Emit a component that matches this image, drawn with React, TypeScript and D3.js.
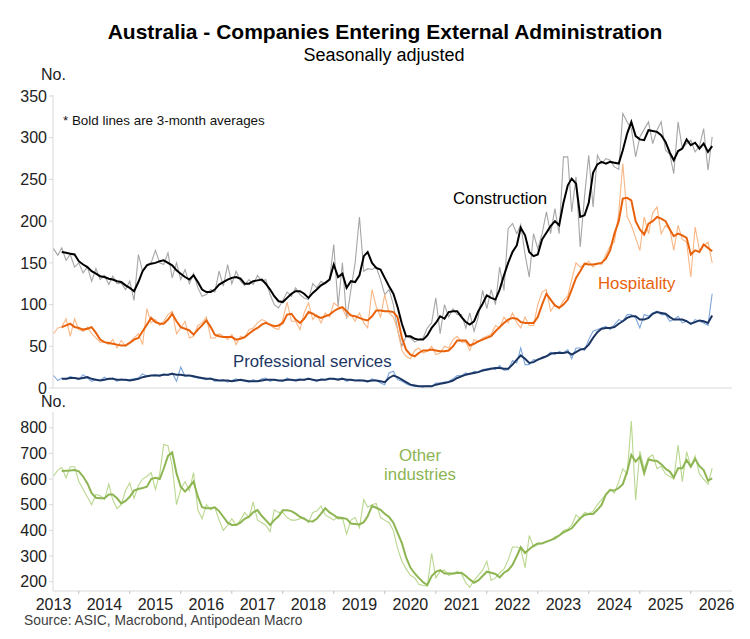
import * as d3 from "d3";

// monthly, Jan 2013 .. Dec 2025
const START_YEAR = 2013;
const YEARS = d3.range(2013, 2027);

const constructionRaw = [
  167, 159, 168, 153, 160, 145, 150, 138, 145, 128, 143, 130,
  135, 124, 134, 125, 126, 118, 128, 105, 160, 140, 148, 150,
  165, 150, 148, 162, 132, 150, 130, 142, 125, 137, 120, 110,
  112, 118, 115, 140, 122, 148, 125, 140, 128, 123, 130, 124,
  135, 128, 130, 112, 100, 96, 105, 115, 110, 120, 112, 108,
  106, 125, 120, 128, 125, 130, 172, 98, 150, 83, 118, 150,
  205, 140, 143, 142, 145, 130, 112, 118, 100, 70, 50, 62,
  60, 55, 58, 60, 72, 78, 108, 65, 100, 85, 95, 88,
  88, 72, 90, 68, 85, 117, 95, 118, 100, 145, 117, 191,
  197, 185, 196, 160, 133, 185, 167, 185, 211, 185, 215, 185,
  277, 277, 211, 253, 169, 230, 279, 217, 279, 269, 275, 273,
  265, 262, 329, 319, 311, 277, 301, 310, 319, 293, 309, 319,
  285, 280, 257, 319, 287, 293, 297, 283, 290, 311, 261, 301,
];
const constructionAvg = [
  null, null, 163, 162, 161, 160, 152, 148, 145, 140, 137, 134,
  133, 131, 130, 128, 127, 123, 120, 116, 127, 140, 147, 149,
  150, 152, 153, 150, 147, 141, 137, 133, 130, 135, 127, 118,
  115, 115, 118, 124, 127, 130, 132, 133, 131, 125, 125, 128,
  129, 130, 125, 118, 110, 104, 103, 108, 113, 116, 116, 113,
  108, 114, 118, 123, 126, 130, 148, 133, 137, 120, 128, 127,
  135, 158, 163, 150, 144, 142, 132, 122, 113, 97, 77, 62,
  62, 59, 58, 58, 63, 72, 78, 86, 83, 91, 92, 92,
  85, 79, 76, 80, 92, 101, 111, 108, 106, 118, 135, 150,
  163, 171, 192, 183, 163, 158, 160, 178, 186, 194, 200, 195,
  222, 243, 251, 245, 205, 207, 222, 258, 268, 271, 269, 271,
  270, 269, 285, 305, 319, 302, 298, 297, 309, 308, 307, 303,
  295, 282, 273, 284, 287, 298, 291, 294, 287, 293, 283, 290,
];

const hospitalityRaw = [
  65, 72, 73, 83, 62, 83, 70, 68, 73, 65, 60, 55,
  55, 52, 58, 48, 57, 50, 55, 60, 65, 52, 95, 78,
  82, 75, 80, 88, 92, 65, 72, 80, 60, 62, 75, 78,
  85, 60, 60, 65, 62, 58, 64, 52, 62, 60, 70, 72,
  78, 82, 80, 75, 72, 70, 82, 103, 80, 80, 70, 90,
  102, 82, 88, 78, 90, 85, 102, 98, 95, 85, 88, 80,
  90, 78, 72, 118, 98, 85, 112, 90, 85, 70, 45, 38,
  35, 45, 48, 42, 44, 50, 40, 42, 50, 48, 58, 62,
  55, 55, 45, 58, 55, 60, 62, 64, 75, 72, 85, 78,
  90, 78, 72, 85, 75, 75, 100, 115, 118, 92, 100, 95,
  105, 110, 130, 150, 145, 148, 152, 145, 150, 148, 160, 170,
  175, 210, 269, 205, 195, 180, 165, 205, 185, 210, 217, 185,
  195, 190, 165, 195, 178, 175, 133, 193, 165, 170, 175, 150,
];
const hospitalityAvg = [
  null, null, 73, 75, 77, 73, 72, 70, 71, 73, 66, 58,
  55, 54, 53, 52, 51, 51, 54, 58, 60, 68, 76, 84,
  79, 77, 77, 82, 89, 80, 73, 71, 69, 64, 70, 75,
  81, 73, 64, 62, 61, 61, 61, 58, 59, 61, 65, 69,
  72, 76, 78, 76, 74, 75, 78, 88, 89, 82, 78, 83,
  91, 89, 86, 84, 86, 88, 92, 95, 97, 92, 87, 86,
  84, 82, 81, 86, 93, 93, 92, 92, 91, 85, 60, 46,
  40, 38, 42, 45, 45, 46, 45, 44, 44, 45, 50, 57,
  57, 57, 51, 53, 56, 58, 60, 62, 68, 73, 78, 82,
  84, 83, 79, 78, 78, 78, 85, 100, 113, 106, 99, 96,
  100, 106, 118, 132, 140, 149, 148, 148, 149, 150, 155, 165,
  185, 200, 227, 228, 225, 200, 190, 184, 197, 200, 205, 203,
  200, 190, 182, 185, 183, 180, 160, 165, 163, 172, 168, 164,
];

const professionalRaw = [
  15, 9, 12, 10, 14, 12, 10, 16, 12, 8, 10, 9,
  13, 10, 12, 8, 11, 9, 10, 11, 12, 17, 14, 15,
  16, 14, 17, 15, 18, 8, 25, 14, 15, 13, 12, 11,
  10, 12, 8, 9, 10, 7, 9, 11, 9, 8, 7, 10,
  8, 11, 12, 8, 10, 9, 8, 12, 9, 10, 11, 9,
  12, 10, 8, 11, 10, 12, 10, 11, 12, 8, 10, 9,
  10, 8, 7, 11, 9, 6, 4, 18, 20, 10, 8, 5,
  3, 2, 2, 1, 3, 2, 6, 6, 7, 8, 11, 15,
  15, 18, 16, 20, 19, 22, 23, 24, 22, 27, 21, 22,
  33, 30, 48, 28, 28, 34, 33, 37, 38, 43, 40, 44,
  42, 46, 35, 48, 48, 45, 58, 68, 70, 72, 74, 70,
  76, 82, 80, 88, 88, 84, 72, 88, 86, 90, 92, 88,
  88, 80, 82, 86, 78, 80, 76, 82, 80, 78, 75, 113,
];
const professionalAvg = [
  null, null, 11, 11, 12, 12, 11, 12, 13, 11, 10, 9,
  10, 11, 11, 10, 10, 10, 9, 10, 11, 13, 14, 15,
  15, 15, 16, 16, 17, 16, 16, 15, 15, 14, 13, 12,
  11, 11, 10, 9, 9, 9, 8, 9, 10, 9, 8, 8,
  8, 9, 10, 10, 10, 9, 9, 10, 10, 9, 10, 10,
  11, 10, 9, 10, 10, 11, 11, 10, 11, 10, 10, 9,
  9, 9, 8, 9, 9, 8, 7, 12, 15, 13, 10, 7,
  4, 3, 2, 2, 2, 2, 4, 5, 6, 7, 9, 12,
  14, 16, 17, 18, 19, 21, 22, 23, 24, 24, 23, 23,
  28, 34, 39, 35, 30, 31, 34, 36, 38, 41, 42, 42,
  42, 43, 40, 43, 46, 47, 52, 60, 67, 71, 72, 72,
  73, 77, 80, 84, 86, 86, 82, 82, 84, 89, 91, 90,
  89, 85, 82, 82, 82, 80, 77, 79, 81, 80, 78, 87,
];

const otherRaw = [
  612, 635, 645, 605, 648, 648, 590, 560, 530, 500, 540, 535,
  520, 580, 520, 485, 500, 555, 585, 525, 575, 600, 610, 625,
  560, 620, 735, 730, 650, 500, 560, 590, 555, 625, 480, 445,
  500, 480, 490, 440, 400, 420, 445, 420, 440, 470, 450, 510,
  440, 430, 420, 395, 480, 470, 470, 450, 440, 440, 445, 450,
  430, 470, 475, 495, 460, 450, 440, 455, 450, 385, 440, 450,
  410, 520, 490, 500, 505, 450, 440, 430, 400, 330, 280, 250,
  225, 215, 190, 185, 183, 310, 215, 240, 245, 225, 230, 240,
  230, 195, 178, 205, 225, 245, 280, 205, 215, 235, 250, 285,
  335, 335, 330, 255, 380, 335, 345, 350, 355, 360, 375, 380,
  400, 405, 420, 460, 445, 470, 465, 475, 500, 520, 540, 560,
  545, 590, 640, 620, 826, 518, 709, 639, 683, 694, 640, 650,
  620, 610, 600, 732, 590, 706, 650, 690, 620, 600, 579, 642,
];
const otherAvg = [
  null, null, 631, 632, 633, 635, 630, 610, 583, 545, 527, 525,
  525, 540, 540, 525, 505, 515, 531, 555, 561, 565, 570, 600,
  605, 600, 640, 690, 704, 622, 570, 551, 570, 590, 531, 490,
  486, 486, 490, 475, 453, 430, 421, 421, 430, 445, 453, 470,
  479, 456, 440, 421, 440, 455, 478, 478, 475, 465, 453, 445,
  436, 435, 445, 465, 486, 470, 460, 447, 448, 445, 427, 425,
  423, 432, 455, 495, 488, 480, 465, 452, 430, 390, 350, 295,
  255, 232, 215, 198, 187, 222, 238, 245, 232, 232, 232, 234,
  235, 222, 209, 196, 205, 222, 239, 235, 230, 217, 235, 245,
  265, 300, 334, 312, 326, 340, 349, 349, 356, 362, 369, 380,
  392, 400, 408, 428, 447, 460, 464, 464, 480, 499, 540, 557,
  555, 565, 580, 629, 694, 668, 687, 622, 677, 672, 670, 658,
  640, 629, 606, 642, 642, 674, 648, 678, 650, 635, 594, 603,
];

const topTicks = [0, 50, 100, 150, 200, 250, 300, 350];
const bottomTicks = [200, 300, 400, 500, 600, 700, 800];

const FONT = "'Liberation Sans', Arial, sans-serif";
const W = 750;
const H = 639;
const X0 = 53;
const X1 = 732;

const monthDate = (i: number) => new Date(START_YEAR, i, 1);

export default function App() {
  const x = d3
    .scaleTime()
    .domain([new Date(2013, 0, 1), new Date(2026, 0, 1)])
    .range([53.5, 716.5]);
  const yTop = d3.scaleLinear().domain([0, 350]).range([388, 96]);
  const yBot = d3.scaleLinear().domain([200, 800]).range([581.7, 427.7]);

  const mkLine = (y: d3.ScaleLinear<number, number>) =>
    d3
      .line<number | null>()
      .defined((d) => d != null)
      .x((_, i) => x(monthDate(i)))
      .y((d) => y(d as number));

  const lt = mkLine(yTop);
  const lb = mkLine(yBot);

  const axisColor = "#d9d9d9";

  const yAxis = (
    y: d3.ScaleLinear<number, number>,
    ticks: number[],
    top: number,
    bottom: number
  ) => (
    <g>
      <line x1={X0} x2={X0} y1={top} y2={bottom} stroke={axisColor} strokeWidth={1} />
      {ticks.map((t) => (
        <g key={t}>
          <line x1={X0 - 4} x2={X0} y1={y(t)} y2={y(t)} stroke={axisColor} />
          <text
            x={X0 - 6}
            y={y(t)}
            dy="0.36em"
            textAnchor="end"
            fontSize={16}
            fill="#222"
          >
            {t}
          </text>
        </g>
      ))}
    </g>
  );

  return (
    <svg
      width={W}
      height={H}
      style={{ display: "block", position: "absolute", left: 0, top: 0 }}
      fontFamily={FONT}
    >
      <rect width={W} height={H} fill="#fff" />
      <text x={385} y={39} textAnchor="middle" fontSize={21} fontWeight="bold" fill="#000">
        Australia - Companies Entering External Administration
      </text>
      <text x={384} y={61} textAnchor="middle" fontSize={18} fill="#000">
        Seasonally adjusted
      </text>

      {/* top panel */}
      <text x={41} y={80} fontSize={16} fill="#222">No.</text>
      {yAxis(yTop, topTicks, 95, 388)}
      <line x1={X0} x2={X1} y1={388} y2={388} stroke={axisColor} />
      <text x={63} y={124.5} fontSize={13.4} fill="#111">
        * Bold lines are 3-month averages
      </text>

      <path d={lt(constructionRaw) ?? ""} fill="none" stroke="#a6a6a6" strokeWidth={1.1} />
      <path d={lt(hospitalityRaw) ?? ""} fill="none" stroke="#f9b685" strokeWidth={1.1} />
      <path d={lt(professionalRaw) ?? ""} fill="none" stroke="#7ea6da" strokeWidth={1.1} />
      <path d={lt(professionalAvg) ?? ""} fill="none" stroke="#1c3664" strokeWidth={2} />
      <path d={lt(hospitalityAvg) ?? ""} fill="none" stroke="#e8620c" strokeWidth={2} />
      <path d={lt(constructionAvg) ?? ""} fill="none" stroke="#000" strokeWidth={2} />

      <text x={453} y={203.5} fontSize={16.8} fill="#000">Construction</text>
      <text x={598} y={289} fontSize={16.8} fill="#e8620c">Hospitality</text>
      <text x={233} y={366.5} fontSize={16.8} fill="#1c3664">Professional services</text>

      {/* bottom panel */}
      <text x={41} y={407} fontSize={16} fill="#222">No.</text>
      {yAxis(yBot, bottomTicks, 412, 591)}
      <line x1={X0} x2={X1} y1={591} y2={591} stroke={axisColor} />
      {YEARS.slice(0, -1).map((yr) => (
        <line
          key={yr}
          x1={x(new Date(yr, 6, 1))}
          x2={x(new Date(yr, 6, 1))}
          y1={591}
          y2={594}
          stroke="#bfbfbf"
        />
      ))}
      {YEARS.map((yr) => (
        <text
          key={yr}
          x={x(new Date(yr, 0, 1))}
          y={610}
          textAnchor="middle"
          fontSize={16}
          fill="#222"
        >
          {yr}
        </text>
      ))}

      <path d={lb(otherRaw) ?? ""} fill="none" stroke="#b9d78f" strokeWidth={1.1} />
      <path d={lb(otherAvg) ?? ""} fill="none" stroke="#8db552" strokeWidth={2} />
      <text x={420} y={461} textAnchor="middle" fontSize={16.8} fill="#8db552">Other</text>
      <text x={420} y={480} textAnchor="middle" fontSize={16.8} fill="#8db552">industries</text>

      <text x={24} y={624.5} fontSize={13.8} fill="#404040">
        Source: ASIC, Macrobond, Antipodean Macro
      </text>
    </svg>
  );
}
